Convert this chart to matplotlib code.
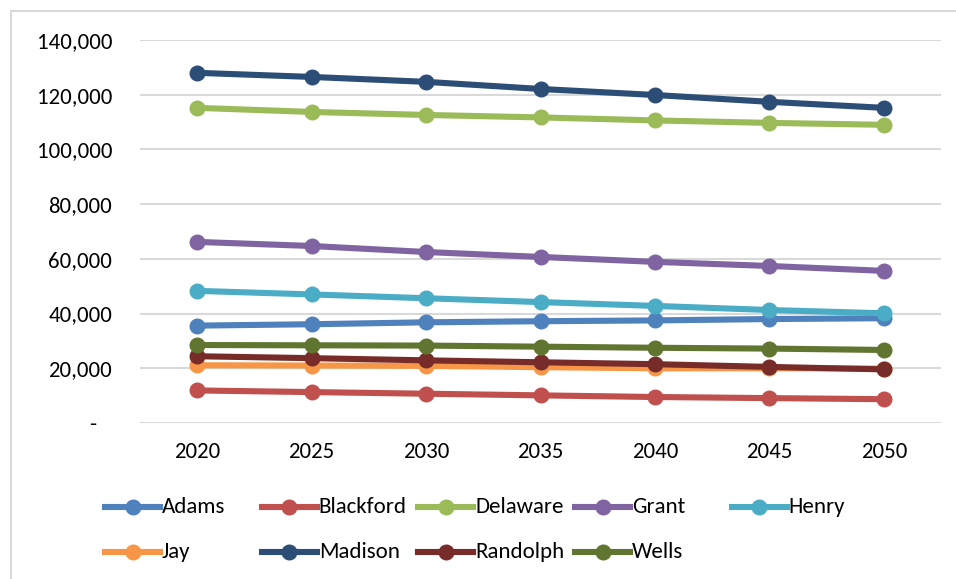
import matplotlib.pyplot as plt
from matplotlib.lines import Line2D
from matplotlib.patches import Rectangle
from matplotlib.ticker import FuncFormatter

plt.rcParams['font.family'] = ['Carlito', 'Liberation Sans Narrow', 'DejaVu Sans']

years = [2020, 2025, 2030, 2035, 2040, 2045, 2050]

adams = [35600, 36100, 36800, 37200, 37500, 38000, 38300]
blackford = [11900, 11300, 10700, 10100, 9500, 9100, 8700]
delaware = [115200, 113700, 112600, 111700, 110600, 109700, 109000]
grant = [66200, 64700, 62500, 60700, 58900, 57400, 55600]
henry = [48300, 47000, 45600, 44200, 42800, 41300, 40100]
jay = [21100, 21000, 20900, 20400, 20000, 20000, 19900]
madison = [128000, 126500, 124700, 122100, 119900, 117400, 115200]
randolph = [24400, 23700, 22900, 22200, 21500, 20500, 19600]
wells = [28500, 28400, 28300, 27900, 27500, 27200, 26700]

series = [
    ('Adams', adams, '#4F81BD'),
    ('Blackford', blackford, '#C0504D'),
    ('Delaware', delaware, '#9BBB59'),
    ('Grant', grant, '#8064A2'),
    ('Henry', henry, '#4BACC6'),
    ('Jay', jay, '#F79646'),
    ('Madison', madison, '#2C4D75'),
    ('Randolph', randolph, '#772C2A'),
    ('Wells', wells, '#5F7530'),
]

W, H = 956, 579
fig = plt.figure(figsize=(W / 100, H / 100), dpi=100)
ax = fig.add_axes([140 / W, 1 - 423 / H, 801 / W, 383 / H])

xs = list(range(len(years)))
for name, vals, color in series:
    ax.plot(xs, vals, color=color, lw=4.4, marker='o', ms=10.5,
            solid_capstyle='round', label=name)

ax.set_xlim(-0.5, len(years) - 0.5)
ax.set_ylim(0, 140000)
ax.set_yticks(range(0, 140001, 20000))
ax.yaxis.set_major_formatter(FuncFormatter(
    lambda v, p: '-   ' if v == 0 else f'{int(v):,}'))
ax.set_xticks(xs)
ax.set_xticklabels([str(y) for y in years])
ax.grid(axis='y', color='#D9D9D9', lw=1.5)
ax.set_axisbelow(True)
for s in ax.spines.values():
    s.set_visible(False)
ax.tick_params(length=0, labelsize=16.5, colors='black')
ax.tick_params(axis='y', pad=20)
ax.tick_params(axis='x', pad=14)

# chart frame (right and bottom edges run off the canvas)
fig.patches.append(Rectangle((11 / W, -0.05), 1.0, 1.05 - 11 / H,
                             transform=fig.transFigure, fill=False,
                             edgecolor='#D9D9D9', lw=1.5))

# legend laid out in a fixed 5-column grid, row by row
for i, (name, vals, color) in enumerate(series):
    row, col = divmod(i, 5)
    x0 = 105 + 156.7 * col
    y = 1 - (507 + 45 * row) / H
    fig.add_artist(Line2D([x0 / W, (x0 + 55) / W], [y, y], color=color,
                          lw=4.4, transform=fig.transFigure))
    fig.add_artist(Line2D([(x0 + 27.5) / W], [y], color=color, marker='o',
                          ms=10.5, transform=fig.transFigure))
    fig.text((x0 + 57) / W, y, name, fontsize=16.5, va='center',
             ha='left')

fig.savefig('out.png', dpi=100)
